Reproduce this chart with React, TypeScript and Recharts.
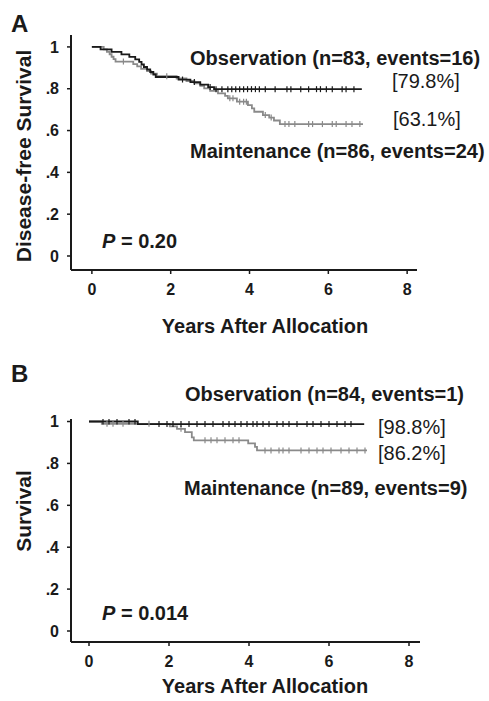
import { ComposedChart, Line, XAxis, YAxis } from "recharts";

// Panel A: disease-free survival, step points [years, survival]
const obsA_t = [0, 0.22, 0.5, 0.75, 0.95, 1.1, 1.2, 1.26, 1.32, 1.4, 1.48, 1.56, 1.62, 2.2, 2.5, 2.75, 2.95, 3.1, 6.85];
const obsA_s = [1, 0.988, 0.976, 0.964, 0.952, 0.94, 0.928, 0.916, 0.904, 0.892, 0.88, 0.868, 0.856, 0.844, 0.832, 0.82, 0.808, 0.798, 0.798];
const obsA_cens = [2.3, 2.6, 3.0, 3.15, 3.3, 3.45, 3.55, 3.65, 3.75, 3.85, 3.95, 4.05, 4.15, 4.25, 4.4, 4.65, 4.95, 5.05, 5.3, 5.5, 5.7, 5.8, 5.95, 6.1, 6.35, 6.45, 6.65];

const mntA_t = [0, 0.3, 0.38, 0.45, 0.5, 0.55, 0.6, 1.05, 1.15, 1.25, 1.4, 1.5, 1.65, 2.15, 2.4, 2.6, 2.75, 2.85, 3.0, 3.2, 3.38, 3.45, 3.68, 3.96, 4.06, 4.12, 4.34, 4.5, 4.62, 4.77, 6.88];
const mntA_s = [1, 0.988, 0.977, 0.965, 0.953, 0.942, 0.93, 0.918, 0.907, 0.895, 0.884, 0.872, 0.86, 0.849, 0.837, 0.826, 0.814, 0.802, 0.79, 0.778, 0.766, 0.754, 0.738, 0.722, 0.706, 0.69, 0.674, 0.662, 0.648, 0.631, 0.631];
const mntA_cens = [0.8, 1.9, 3.5, 3.58, 3.75, 3.85, 3.92, 4.4, 4.55, 4.9, 5.0, 5.15, 5.5, 5.6, 5.85, 6.1, 6.2, 6.45, 6.6, 6.8];

// Panel B: overall survival
const obsB_t = [0, 1.22, 6.88];
const obsB_s = [1, 0.988, 0.988];
const obsB_cens = [0.35, 0.5, 0.7, 1.0, 1.15, 1.75, 1.95, 2.1, 2.3, 2.5, 2.7, 2.9, 3.1, 3.35, 3.5, 3.65, 3.8, 3.95, 4.1, 4.2, 4.35, 4.5, 4.7, 4.85, 5.0, 5.2, 5.45, 5.6, 5.8, 6.0, 6.2, 6.4, 6.55];

const mntB_t = [0, 0.32, 2.02, 2.2, 2.4, 2.57, 2.62, 3.98, 4.15, 4.2, 6.95];
const mntB_s = [1, 0.989, 0.977, 0.965, 0.949, 0.924, 0.91, 0.896, 0.879, 0.862, 0.862];
const mntB_cens = [0.45, 0.6, 0.85, 1.5, 2.3, 2.9, 3.05, 3.2, 3.4, 3.6, 3.75, 4.4, 4.55, 4.75, 4.85, 5.0, 5.3, 5.5, 5.7, 5.85, 6.05, 6.3, 6.5, 6.7, 6.9];

const xTicks = [0, 2, 4, 6, 8];
const yTicks = [0, 0.2, 0.4, 0.6, 0.8, 1];

function buildCurve(ts: number[], ss: number[], cens: number[]) {
  const pts: any[] = ts.map((t, i) => ({ t, s: ss[i], c: false }));
  cens.forEach((t) => {
    let s = ss[0];
    for (let i = 0; i < ts.length; i++) if (ts[i] <= t) s = ss[i];
    pts.push({ t, s, c: true });
  });
  return pts.sort((a, b) => a.t - b.t || (a.c ? 1 : -1));
}

const yFmt = (v: number) => (v === 0 ? "0" : v === 1 ? "1" : "." + Math.round(v * 10));

const FONT = "'Liberation Sans', Arial, sans-serif";
const INK = "#1a1a1a";
const GRAY = "#8a8a8a";

function censorDot(color: string) {
  return (p: any) => {
    if (!p.payload || !p.payload.c) return <g key={`d-${p.index}`} />;
    return <line key={`d-${p.index}`} x1={p.cx} x2={p.cx} y1={p.cy - 3} y2={p.cy + 3} stroke={color} strokeWidth={1.2} />;
  };
}

interface PanelProps {
  height: number;
  margin: any;
  xDomain: number[];
  yDomain: number[];
  obs: any[];
  mnt: any[];
}

function Panel({ height, margin, xDomain, yDomain, obs, mnt }: PanelProps) {
  const tickStyle = { fontSize: 16, fontWeight: 700, fill: INK, fontFamily: FONT };
  return (
    <ComposedChart width={489} height={height} margin={margin}>
      <XAxis
        type="number"
        dataKey="t"
        domain={xDomain}
        ticks={xTicks}
        allowDataOverflow
        axisLine={{ stroke: INK, strokeWidth: 2 }}
        tickLine={{ stroke: INK, strokeWidth: 1.5 }}
        tickSize={4}
        tickMargin={10}
        height={30}
        tick={tickStyle}
      />
      <YAxis
        type="number"
        domain={yDomain}
        ticks={yTicks}
        allowDataOverflow
        tickFormatter={yFmt}
        axisLine={{ stroke: INK, strokeWidth: 2 }}
        tickLine={{ stroke: INK, strokeWidth: 1.5 }}
        tickSize={4}
        tickMargin={8}
        width={71}
        tick={tickStyle}
      />
      <Line data={mnt} dataKey="s" type="stepAfter" stroke={GRAY} strokeWidth={1.8} dot={censorDot(GRAY)} activeDot={false} isAnimationActive={false} />
      <Line data={obs} dataKey="s" type="stepAfter" stroke={INK} strokeWidth={1.8} dot={censorDot(INK)} activeDot={false} isAnimationActive={false} />
    </ComposedChart>
  );
}

const txt = (extra: any): any => ({
  position: "absolute",
  fontFamily: FONT,
  color: INK,
  whiteSpace: "nowrap",
  lineHeight: 1,
  ...extra,
});

function vLabel(text: string, cx: number, cy: number) {
  return (
    <div style={txt({ left: cx, top: cy, fontSize: 21, fontWeight: 700, transform: "translate(-50%, -50%) rotate(-90deg)" })}>
      {text}
    </div>
  );
}

export default function App() {
  const obsA = buildCurve(obsA_t, obsA_s, obsA_cens);
  const mntA = buildCurve(mntA_t, mntA_s, mntA_cens);
  const obsB = buildCurve(obsB_t, obsB_s, obsB_cens);
  const mntB = buildCurve(mntB_t, mntB_s, mntB_cens);

  return (
    <div style={{ position: "absolute", left: 0, top: 0, width: 489, height: 701, background: "#fff", overflow: "hidden" }}>
      <div style={{ position: "absolute", left: 0, top: 0 }}>
        <Panel height={350} margin={{ top: 35, right: 72, bottom: 50, left: 0 }} xDomain={[-0.53, 8.25]} yDomain={[-0.067, 1.057]} obs={obsA} mnt={mntA} />
      </div>
      <div style={{ position: "absolute", left: 0, top: 350 }}>
        <Panel height={351} margin={{ top: 69, right: 69, bottom: 29, left: 0 }} xDomain={[-0.45, 8.275]} yDomain={[-0.0525, 1.012]} obs={obsB} mnt={mntB} />
      </div>

      {/* Panel A text */}
      <div style={txt({ left: 11, top: 12, fontSize: 24, fontWeight: 700 })}>A</div>
      {vLabel("Disease-free Survival", 23, 156)}
      <div style={txt({ left: 190, top: 48, fontSize: 20, fontWeight: 700 })}>Observation (n=83, events=16)</div>
      <div style={txt({ left: 392, top: 71, fontSize: 20 })}>[79.8%]</div>
      <div style={txt({ left: 393, top: 109, fontSize: 20 })}>[63.1%]</div>
      <div style={txt({ left: 190, top: 141, fontSize: 20, fontWeight: 700 })}>Maintenance (n=86, events=24)</div>
      <div style={txt({ left: 102, top: 231, fontSize: 20, fontWeight: 700 })}>
        <i>P</i> = 0.20
      </div>
      <div style={txt({ left: 265, top: 316, fontSize: 20, fontWeight: 700, transform: "translateX(-50%)" })}>Years After Allocation</div>

      {/* Panel B text */}
      <div style={txt({ left: 11, top: 362, fontSize: 24, fontWeight: 700 })}>B</div>
      {vLabel("Survival", 23, 511)}
      <div style={txt({ left: 185, top: 384, fontSize: 20, fontWeight: 700 })}>Observation (n=84, events=1)</div>
      <div style={txt({ left: 378, top: 417, fontSize: 20 })}>[98.8%]</div>
      <div style={txt({ left: 378, top: 443, fontSize: 20 })}>[86.2%]</div>
      <div style={txt({ left: 184, top: 478, fontSize: 20, fontWeight: 700 })}>Maintenance (n=89, events=9)</div>
      <div style={txt({ left: 102, top: 603, fontSize: 20, fontWeight: 700 })}>
        <i>P</i> = 0.014
      </div>
      <div style={txt({ left: 265, top: 676, fontSize: 20, fontWeight: 700, transform: "translateX(-50%)" })}>Years After Allocation</div>
    </div>
  );
}
